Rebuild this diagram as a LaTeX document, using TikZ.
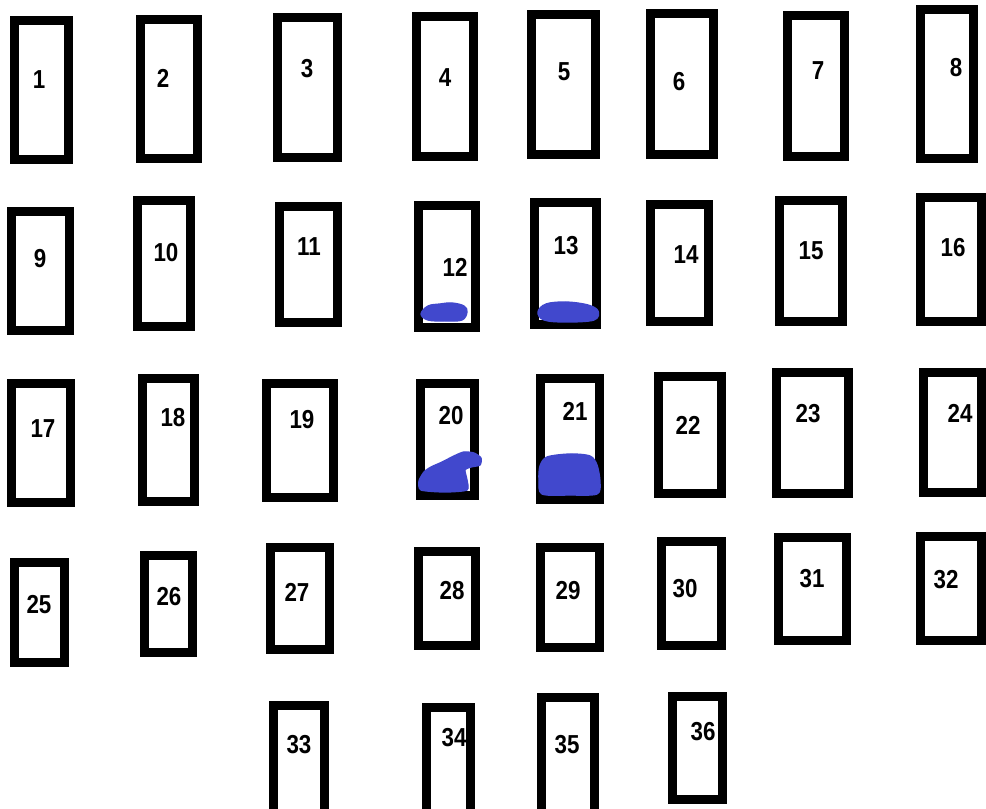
\documentclass[tikz,border=0pt]{standalone}
\usepackage{fontspec}
\setmainfont{Liberation Sans}[FakeStretch=0.86]
\definecolor{blob}{RGB}{65,72,205}
\tikzset{
  boxline/.style={draw=black, line width=6.75pt, line join=miter},
  lab/.style={font=\fontsize{19.5}{20}\selectfont\bfseries, inner sep=0pt, text=black},
  blobfill/.style={fill=blob, draw=blob, line width=1pt}
}
\newcommand{\fusebox}[8]{%
  \draw[boxline] (#2+4.5,#3+4.5) rectangle (#4-4.5,#5-4.5);
  \node[lab] (#1) at (#7,#8) {#6};
}
\begin{document}
\begin{tikzpicture}[x=0.75pt,y=-0.75pt]
\useasboundingbox[fill=white] (0,0) rectangle (986,809);
% row 1
\fusebox{n1}{10}{16}{73}{164}{1}{39}{80}
\fusebox{n2}{136}{15}{202}{163}{2}{163}{78}
\fusebox{n3}{273}{13}{342}{162}{3}{307}{69}
\fusebox{n4}{412}{12}{478}{161}{4}{445}{78}
\fusebox{n5}{527}{10}{600}{159}{5}{564}{72}
\fusebox{n6}{646}{9}{718}{159}{6}{679}{82}
\fusebox{n7}{783}{11}{849}{161}{7}{818}{71}
\fusebox{n8}{916}{5}{978}{163}{8}{956}{68}
% row 2
\fusebox{n9}{7}{207}{74}{335}{9}{40}{259}
\fusebox{n10}{133}{196}{195}{331}{10}{166}{253}
\fusebox{n11}{275}{202}{342}{327}{11}{309}{247}
\fusebox{n12}{414}{201}{480}{332}{12}{455}{267}
\fusebox{n13}{530}{198}{601}{329}{13}{566}{246}
\fusebox{n14}{646}{200}{713}{326}{14}{686}{255}
\fusebox{n15}{775}{196}{847}{326}{15}{811}{251}
\fusebox{n16}{916}{193}{986}{326}{16}{953}{248}
% row 3
\fusebox{n17}{7}{379}{75}{507}{17}{43}{429}
\fusebox{n18}{138}{374}{199}{506}{18}{173}{418}
\fusebox{n19}{262}{379}{338}{502}{19}{302}{420}
\fusebox{n20}{416}{379}{479}{500}{20}{451}{416}
\fusebox{n21}{536}{374}{604}{504}{21}{575}{411}
\fusebox{n22}{654}{372}{726}{498}{22}{688}{425}
\fusebox{n23}{772}{368}{853}{498}{23}{808}{414}
\fusebox{n24}{919}{368}{986}{497}{24}{960}{413}
% row 4
\fusebox{n25}{10}{558}{69}{667}{25}{39}{605}
\fusebox{n26}{140}{551}{197}{657}{26}{169}{597}
\fusebox{n27}{266}{543}{334}{654}{27}{297}{592}
\fusebox{n28}{414}{547}{480}{650}{28}{452}{591}
\fusebox{n29}{536}{543}{604}{652}{29}{568}{591}
\fusebox{n30}{657}{537}{726}{650}{30}{685}{589}
\fusebox{n31}{774}{533}{851}{645}{31}{812}{579}
\fusebox{n32}{916}{532}{986}{645}{32}{946}{580}
% row 5
\fusebox{n33}{269}{701}{329}{818}{33}{299}{745}
\fusebox{n34}{422}{703}{475}{818}{34}{454}{738}
\fusebox{n35}{537}{693}{599}{818}{35}{567}{745}
\fusebox{n36}{668}{692}{727}{804}{36}{703}{732}
% blue blobs
\path[blobfill] plot[smooth cycle, tension=0.6] coordinates {(421,314) (428,306) (440,304) (452,303) (464,306) (467,312) (462,320) (445,321) (428,320)};
\path[blobfill] plot[smooth cycle, tension=0.6] coordinates {(538,312) (546,304) (566,302) (588,305) (598,311) (594,320) (566,322) (544,320)};
\path[blobfill] plot[smooth cycle, tension=0.4] coordinates {(419,481) (424,472) (431,467) (440,463) (448,459) (456,455) (464,452) (474,453) (481,458) (480,465) (471,467) (465,470) (467,480) (467,490) (445,492) (421,490)};
\path[blobfill] plot[smooth cycle, tension=0.5] coordinates {(540,466) (547,457) (570,454) (590,456) (597,465) (600,482) (597,494) (570,495) (542,494) (539,480)};
\end{tikzpicture}
\end{document}
